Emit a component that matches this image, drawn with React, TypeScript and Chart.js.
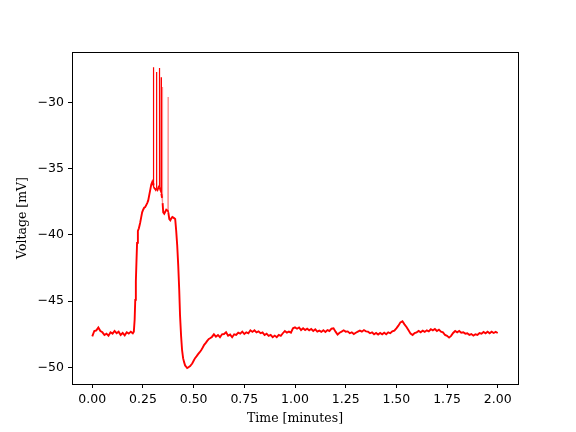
import React, { useEffect, useRef } from "react";
import { Chart, registerables } from "chart.js";

Chart.register(...registerables);

// Time in minutes
const timeMin: number[] = [
  0.0, 0.01, 0.02, 0.03, 0.04, 0.05, 0.06, 0.07, 0.08, 0.09,
  0.1, 0.11, 0.12, 0.13, 0.14, 0.15, 0.16, 0.17, 0.18, 0.19,
  0.2, 0.205,
  0.209, 0.212, 0.215, 0.218, 0.221, 0.225, 0.23, 0.236, 0.241, 0.246,
  0.251, 0.256, 0.261, 0.266, 0.271, 0.276, 0.281, 0.286, 0.291, 0.296,
  0.3, 0.3015, 0.302, 0.3025, 0.308, 0.313, 0.316, 0.317, 0.318, 0.322,
  0.327, 0.331, 0.3315, 0.332, 0.336, 0.339, 0.34, 0.341, 0.344, 0.346,
  0.347, 0.35, 0.355, 0.36, 0.365, 0.37, 0.373, 0.374, 0.375, 0.38,
  0.385, 0.39, 0.395, 0.4, 0.405, 0.409, 0.414, 0.419, 0.424, 0.429,
  0.433, 0.438, 0.443, 0.448, 0.453, 0.458, 0.463, 0.468, 0.473, 0.478,
  0.483, 0.488, 0.493, 0.5, 0.507, 0.515, 0.522, 0.53, 0.537, 0.545,
  0.552, 0.56, 0.567, 0.575, 0.581, 0.59,
  0.6, 0.61, 0.62, 0.63, 0.64, 0.65, 0.66, 0.67, 0.68, 0.69,
  0.7, 0.71, 0.72, 0.73, 0.74, 0.75, 0.76, 0.77, 0.78, 0.79,
  0.8, 0.81, 0.82, 0.83, 0.84, 0.85, 0.86, 0.87, 0.88, 0.89,
  0.9, 0.91, 0.92, 0.93, 0.94, 0.95, 0.96, 0.97, 0.98, 0.99,
  1.0, 1.01, 1.02, 1.03, 1.04, 1.05, 1.06, 1.07, 1.08, 1.09,
  1.1, 1.11, 1.12, 1.13, 1.14, 1.15, 1.16, 1.17, 1.18, 1.19,
  1.2, 1.21, 1.22, 1.23, 1.24, 1.25, 1.26, 1.27, 1.28, 1.29,
  1.3, 1.31, 1.32, 1.33, 1.34, 1.35, 1.36, 1.37, 1.38, 1.39,
  1.4, 1.41, 1.42, 1.43, 1.44, 1.45, 1.46, 1.47, 1.48, 1.49,
  1.5, 1.51, 1.52, 1.53, 1.54, 1.55, 1.56, 1.57, 1.58, 1.59,
  1.6, 1.61, 1.62, 1.63, 1.64, 1.65, 1.66, 1.67, 1.68, 1.69,
  1.7, 1.71, 1.72, 1.73, 1.74, 1.75, 1.76, 1.77, 1.78, 1.79,
  1.8, 1.81, 1.82, 1.83, 1.84, 1.85, 1.86, 1.87, 1.88, 1.89,
  1.9, 1.91, 1.92, 1.93, 1.94, 1.95, 1.96, 1.97, 1.98, 1.99,
  2.0,
];

// Membrane voltage in mV
const voltageMv: number[] = [
  -47.65, -47.25, -47.2, -46.98, -47.25, -47.35, -47.55, -47.45, -47.6, -47.35,
  -47.45, -47.25, -47.42, -47.3, -47.55, -47.4, -47.58, -47.35, -47.45, -47.3,
  -47.42, -47.3,
  -46.4, -44.9, -43.5, -42.0, -40.6, -39.7, -39.5, -39.1, -38.7, -38.3,
  -38.1, -37.95, -37.9, -37.75, -37.6, -37.4, -37.0, -36.6, -36.2, -36.0,
  -36.2, -36.1, -27.35, -36.4, -36.5, -36.6, -36.5, -27.7, -36.5, -36.6,
  -36.4, -36.3, -27.4, -36.4, -36.6, -36.7, -28.1, -36.9, -37.2, -28.85,
  -37.6, -38.3, -38.4, -38.25, -38.1, -38.15, -38.2, -29.6, -38.3, -38.8,
  -38.9, -38.75, -38.65, -38.7, -38.75, -38.8, -39.7, -40.8, -42.3, -44.2,
  -46.1, -47.6, -48.7, -49.3, -49.6, -49.85, -49.95, -50.05, -50.0, -49.95,
  -49.9, -49.8, -49.7, -49.5, -49.3, -49.15, -49.0, -48.85, -48.7, -48.5,
  -48.3, -48.15, -48.0, -47.85, -47.8, -47.7,
  -47.5, -47.68, -47.55, -47.72, -47.5, -47.48, -47.35, -47.6, -47.52, -47.72,
  -47.5, -47.55, -47.38, -47.45, -47.3, -47.48, -47.35, -47.42, -47.2, -47.32,
  -47.2, -47.35, -47.28, -47.42, -47.35, -47.55, -47.45, -47.62, -47.55, -47.72,
  -47.6, -47.72, -47.55, -47.62, -47.42, -47.25, -47.38, -47.3, -47.38, -47.05,
  -46.98, -47.08, -46.98, -47.18, -47.05, -47.18, -47.08, -47.2, -47.1, -47.25,
  -47.12, -47.3, -47.22, -47.32, -47.2, -47.32, -47.18, -47.25, -47.08, -47.05,
  -47.3, -47.52, -47.38, -47.3, -47.2, -47.3, -47.28, -47.42, -47.35, -47.48,
  -47.38, -47.3, -47.22, -47.3, -47.18, -47.28, -47.3, -47.42, -47.35, -47.5,
  -47.4, -47.52, -47.4, -47.5, -47.38, -47.5, -47.35, -47.42, -47.28, -47.22,
  -47.05, -46.85, -46.6, -46.52, -46.75, -46.95, -47.2, -47.45, -47.55, -47.4,
  -47.35, -47.25, -47.35, -47.22, -47.32, -47.2, -47.28, -47.12, -47.2, -47.1,
  -47.25, -47.15, -47.3, -47.35, -47.55, -47.62, -47.75, -47.62, -47.4, -47.25,
  -47.35, -47.25, -47.38, -47.35, -47.45, -47.42, -47.55, -47.48, -47.6, -47.5,
  -47.55, -47.4, -47.45, -47.32, -47.42, -47.3, -47.42, -47.3, -47.4, -47.32,
  -47.4,
];

// Spikes that appear fainter in the reference (thin, few samples)
const faintSpikeTimes: number[] = [0.346, 0.374];

const xTicks: number[] = [0, 0.25, 0.5, 0.75, 1.0, 1.25, 1.5, 1.75, 2.0];
const yTicks: number[] = [-50, -45, -40, -35, -30];

const framePlugin = {
  id: "frame",
  afterDraw(chart: any) {
    const { ctx, chartArea } = chart;
    ctx.save();
    ctx.strokeStyle = "#000";
    ctx.lineWidth = 1;
    ctx.strokeRect(
      Math.round(chartArea.left) + 0.5,
      Math.round(chartArea.top) + 0.5,
      Math.round(chartArea.right - chartArea.left),
      Math.round(chartArea.bottom - chartArea.top)
    );
    ctx.restore();
  },
};

export default function App() {
  const ref = useRef<HTMLCanvasElement | null>(null);

  useEffect(() => {
    if (!ref.current) return;
    const points = timeMin.map((t, i) => ({ x: t, y: voltageMv[i] }));
    const isFaint = (ctx: any) =>
      faintSpikeTimes.includes(ctx.p0.parsed.x) || faintSpikeTimes.includes(ctx.p1.parsed.x);

    const chart = new Chart(ref.current, {
      type: "line",
      data: {
        datasets: [
          {
            data: points,
            borderColor: "#ff0000",
            borderWidth: 1.9,
            pointRadius: 0,
            tension: 0,
            segment: {
              borderColor: (ctx: any) => (isFaint(ctx) ? "rgba(255,0,0,0.45)" : undefined),
              borderWidth: (ctx: any) =>
                Math.max(ctx.p0.parsed.y, ctx.p1.parsed.y) > -34 ? 1.2 : undefined,
            },
          },
        ],
      },
      plugins: [framePlugin],
      options: {
        animation: false,
        responsive: false,
        devicePixelRatio: 1,
        layout: { padding: { left: 0, top: 52, right: 58, bottom: 0 } },
        plugins: { legend: { display: false }, tooltip: { enabled: false }, title: { display: false } },
        scales: {
          x: {
            type: "linear",
            min: -0.1,
            max: 2.1,
            afterBuildTicks: (scale: any) => {
              scale.ticks = xTicks.map((v) => ({ value: v }));
            },
            afterFit: (scale: any) => {
              scale.height = 48;
            },
            grid: { drawOnChartArea: false, drawTicks: true, tickLength: 4, color: "#000" },
            border: { display: true, color: "#000" },
            ticks: {
              color: "#000",
              padding: 4,
              maxRotation: 0,
              autoSkip: false,
              font: { family: "DejaVu Sans", size: 12.5 },
              callback: (v: any) => Number(v).toFixed(2),
            },
            title: {
              display: true,
              text: "Time [minutes]",
              color: "#000",
              font: { family: "DejaVu Serif", size: 12.5 },
              padding: { top: 0, bottom: 6 },
            },
          },
          y: {
            type: "linear",
            min: -51.25,
            max: -26.2,
            afterBuildTicks: (scale: any) => {
              scale.ticks = yTicks.map((v) => ({ value: v }));
            },
            afterFit: (scale: any) => {
              scale.width = 72;
            },
            grid: { drawOnChartArea: false, drawTicks: true, tickLength: 4, color: "#000" },
            border: { display: true, color: "#000" },
            ticks: {
              color: "#000",
              padding: 4,
              autoSkip: false,
              font: { family: "DejaVu Sans", size: 12.5 },
              callback: (v: any) => String(v).replace("-", "\u2212"),
            },
            title: {
              display: true,
              text: "Voltage [mV]",
              color: "#000",
              font: { family: "DejaVu Serif", size: 12.5 },
              padding: { top: 15, bottom: 0 },
            },
          },
        },
      },
    });
    return () => chart.destroy();
  }, []);

  return (
    <div style={{ position: "fixed", left: 0, top: 0, width: 576, height: 432, background: "#fff" }}>
      <canvas ref={ref} width={576} height={432} style={{ width: 576, height: 432 }} />
    </div>
  );
}
